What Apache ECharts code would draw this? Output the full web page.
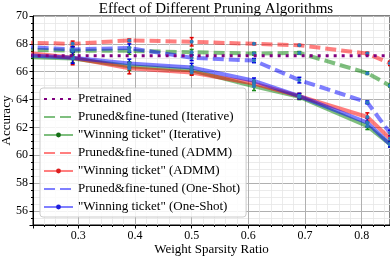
<!DOCTYPE html>
<html><head><meta charset="utf-8">
<script src="https://cdn.jsdelivr.net/npm/echarts@6/dist/echarts.min.js"></script>
<style>html,body{margin:0;padding:0;background:#fff}#c{width:390px;height:256px}</style>
</head><body><div id="c"></div>
<script>
const sparsity = [0.2, 0.29, 0.39, 0.5, 0.61, 0.69, 0.81, 0.85];
const pretrained = [67.15, 67.15, 67.15, 67.15, 67.15, 67.15, 67.15, 67.15];
const ftIterative = [67.6, 67.5, 67.5, 67.4, 67.3, 67.35, 65.9, 65.0];
const ftIterativeErr = [0, 0.3, 0.25, 0.2, 0.1, 0.1, 0.1, 0.1];
const wtIterative = [67.05, 66.95, 66.4, 66.1, 64.95, 64.2, 62.1, 60.8];
const wtIterativeErr = [0, 0.3, 0.3, 0.3, 0.3, 0.2, 0.25, 0.2];
const ftADMM = [68.1, 68.0, 68.25, 68.15, 68.0, 67.9, 67.3, 66.6];
const ftADMMErr = [0, 0.2, 0.1, 0.3, 0.05, 0.05, 0.1, 0.15];
const wtADMM = [67.4, 67.0, 66.25, 65.95, 65.15, 64.25, 62.75, 61.2];
const wtADMMErr = [0, 0.5, 0.4, 0.2, 0.2, 0.2, 0.3, 0.2];
const ftOneShot = [67.8, 67.6, 67.7, 67.0, 66.8, 65.4, 63.8, 61.6];
const ftOneShotErr = [0, 0.2, 0.3, 0.2, 0.15, 0.2, 0.1, 0.2];
const wtOneShot = [67.2, 67.0, 66.6, 66.3, 65.35, 64.25, 62.35, 60.8];
const wtOneShotErr = [0, 0.4, 0.3, 0.3, 0.2, 0.2, 0.3, 0.2];
const names = ['Pretrained', 'Pruned&fine-tuned (Iterative)', '"Winning ticket" (Iterative)',
  'Pruned&fine-tuned (ADMM)', '"Winning ticket" (ADMM)', 'Pruned&fine-tuned (One-Shot)', '"Winning ticket" (One-Shot)'];

const serif = 'Liberation Serif, DejaVu Serif, serif';
const RED = 'rgba(255,0,0,0.5)', GREEN = 'rgba(0,128,0,0.5)', BLUE = 'rgba(0,0,255,0.5)';
const MARK = '#2b7bba';

function pairs(ys) { return sparsity.map((x, i) => [x, ys[i]]); }
function lineSeries(name, ys, color, dashed) {
  return {
    type: 'line', name, data: pairs(ys), clip: true,
    symbol: 'circle', symbolSize: 4, showSymbol: true,
    itemStyle: { color: MARK },
    lineStyle: { color, width: 4, type: dashed ? [11, 5] : 'solid', cap: 'butt' },
    z: 3
  };
}
function errSeries(ys, errs, color) {
  return {
    type: 'custom', clip: true, z: 2, silent: true,
    data: sparsity.map((x, i) => [x, ys[i], errs[i]]),
    renderItem(params, api) {
      const x = api.value(0), y = api.value(1), e = api.value(2);
      if (!e) return;
      const t = api.coord([x, y + e]), b = api.coord([x, y - e]);
      const st = { stroke: color, lineWidth: 1.5 };
      return { type: 'group', children: [
        { type: 'line', shape: { x1: t[0], y1: t[1], x2: b[0], y2: b[1] }, style: st },
        { type: 'line', shape: { x1: t[0] - 2, y1: t[1], x2: t[0] + 2, y2: t[1] }, style: st },
        { type: 'line', shape: { x1: b[0] - 2, y1: b[1], x2: b[0] + 2, y2: b[1] }, style: st }
      ] };
    }
  };
}

const chart = echarts.init(document.getElementById('c'), null, { renderer: 'canvas' });
chart.setOption({
  animation: false,
  backgroundColor: '#fff',
  title: { text: 'Effect of Different Pruning Algorithms', left: 211, textAlign: 'center', top: -3,
    textStyle: { fontFamily: serif, fontSize: 15, fontWeight: 'normal', color: '#000' } },
  grid: { left: 33, right: 0, top: 16, bottom: 31, show: true, borderColor: '#000', borderWidth: 1,
    containLabel: false, outerBoundsMode: 'none' },
  xAxis: {
    type: 'value', min: 0.22, max: 0.85, splitNumber: 6,
    name: 'Weight Sparsity Ratio', nameLocation: 'middle', nameGap: 18, nameMoveOverlap: false,
    nameTextStyle: { fontFamily: serif, fontSize: 13, color: '#000' },
    axisLine: { show: true, onZero: false, lineStyle: { color: '#000', width: 1 } },
    axisTick: { show: true, inside: false, length: 3.5, lineStyle: { color: '#000' } },
    minorTick: { show: true, splitNumber: 5, length: 2, lineStyle: { color: '#000' } },
    axisLabel: { fontFamily: serif, fontSize: 12, color: '#000', margin: 5, showMinLabel: false, showMaxLabel: false },
    splitLine: { show: true, lineStyle: { color: '#b0b0b0', width: 1 } },
    minorSplitLine: { show: true, lineStyle: { color: '#e6e6e6', width: 0.8 } }
  },
  yAxis: {
    type: 'value', min: 55, max: 70, splitNumber: 7,
    name: 'Accuracy', nameLocation: 'middle', nameGap: 20, nameRotate: 90, nameMoveOverlap: false,
    nameTextStyle: { fontFamily: serif, fontSize: 13, color: '#000' },
    axisLine: { show: true, onZero: false, lineStyle: { color: '#000', width: 1 } },
    axisTick: { show: true, inside: false, length: 3.5, lineStyle: { color: '#000' } },
    minorTick: { show: true, splitNumber: 4, length: 2, lineStyle: { color: '#000' } },
    axisLabel: { fontFamily: serif, fontSize: 12, color: '#000', margin: 5, showMinLabel: false },
    splitLine: { show: true, lineStyle: { color: '#b0b0b0', width: 1 } },
    minorSplitLine: { show: true, lineStyle: { color: '#e6e6e6', width: 0.8 } }
  },
  legend: {
    orient: 'vertical', left: 40, top: 88, itemWidth: 29, itemHeight: 6, itemGap: 4,
    backgroundColor: 'rgba(255,255,255,0.85)', borderColor: '#cccccc', borderWidth: 1, borderRadius: 3,
    padding: [4, 6, 3, 3],
    textStyle: { fontFamily: serif, fontSize: 13, color: '#000', lineHeight: 14 },
    data: [
      { name: names[0], itemStyle: { opacity: 0 } },
      { name: names[1], itemStyle: { opacity: 0 } },
      { name: names[2], itemStyle: { color: 'rgb(20,110,20)' } },
      { name: names[3], itemStyle: { opacity: 0 } },
      { name: names[4], itemStyle: { color: 'rgb(220,30,30)' } },
      { name: names[5], itemStyle: { opacity: 0 } },
      { name: names[6], itemStyle: { color: 'rgb(30,30,220)' } }
    ]
  },
  series: [
    { type: 'line', name: names[0], data: pairs(pretrained), symbol: 'none', clip: true, z: 4,
      itemStyle: { color: '#800080' },
      lineStyle: { color: '#800080', width: 3, type: [3, 5], cap: 'butt' } },
    errSeries(ftIterative, ftIterativeErr, '#1a8a1a'),
    errSeries(wtIterative, wtIterativeErr, '#1a8a1a'),
    errSeries(ftADMM, ftADMMErr, '#e00000'),
    errSeries(wtADMM, wtADMMErr, '#e00000'),
    errSeries(ftOneShot, ftOneShotErr, '#0000e0'),
    errSeries(wtOneShot, wtOneShotErr, '#0000e0'),
    lineSeries(names[1], ftIterative, GREEN, true),
    lineSeries(names[2], wtIterative, GREEN, false),
    lineSeries(names[3], ftADMM, RED, true),
    lineSeries(names[4], wtADMM, RED, false),
    lineSeries(names[5], ftOneShot, BLUE, true),
    lineSeries(names[6], wtOneShot, BLUE, false)
  ]
});
</script></body></html>
